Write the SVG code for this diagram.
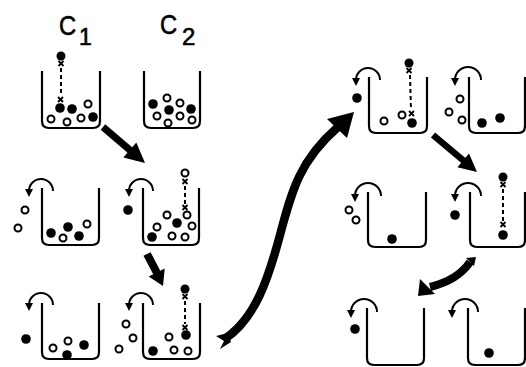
<svg xmlns="http://www.w3.org/2000/svg" width="526" height="367" viewBox="0 0 526 367">
<style>
.bk{fill:none;stroke:#000;stroke-width:2.2;stroke-linejoin:round}
.o{fill:#fff;stroke:#000;stroke-width:2}
.f{fill:#000}
.curl{fill:none;stroke:#000;stroke-width:2;marker-end:url(#ch)}
.dash{stroke:#000;stroke-width:2;stroke-dasharray:4 3}
.x{stroke:#000;stroke-width:1.8;fill:none}
.lbl{font-family:"Liberation Sans",Arial,sans-serif;fill:#000;stroke:#000;stroke-width:0.6}
.shaft{fill:none;stroke:#000;stroke-linecap:butt}
</style>
<defs>
<marker id="ch" markerUnits="userSpaceOnUse" markerWidth="10" markerHeight="10" refX="2" refY="4" orient="auto">
<path d="M0,0 L8,4 L0,8 Z" fill="#000"/>
</marker>
</defs>
<rect width="526" height="367" fill="#fff"/>

<g id="labels">
<text class="lbl" transform="translate(59,35) scale(0.85,1)" font-size="28">C</text>
<text class="lbl" x="79" y="45" font-size="23">1</text>
<text class="lbl" transform="translate(160,34) scale(0.85,1)" font-size="28">C</text>
<text class="lbl" x="182" y="45" font-size="24">2</text>
</g>

<g id="beaker1">
<path class="bk" d="M42 71 V121 Q42 128 49 128 H93 Q100 128 100 121 V71"/>
<circle class="f" cx="61" cy="56" r="4.5"/>
<path class="x" d="M58.5 61 L63.5 66 M63.5 61 L58.5 66"/>
<line class="dash" x1="61" y1="68" x2="61" y2="96"/>
<path class="x" d="M58 97 L63 102 M63 97 L58 102"/>
<circle class="f" cx="60" cy="108" r="4.8"/>
<circle class="f" cx="72" cy="109" r="4.8"/>
<circle class="o" cx="88" cy="104" r="3.5"/>
<circle class="o" cx="51" cy="119" r="3.5"/>
<circle class="o" cx="67" cy="122" r="3.5"/>
<circle class="o" cx="81" cy="118" r="3.5"/>
<circle class="f" cx="93" cy="117" r="4.8"/>
</g>

<g id="beaker2">
<path class="bk" d="M144 71 V121 Q144 128 151 128 H193 Q200 128 200 121 V71"/>
<circle class="f" cx="153" cy="104" r="4.8"/>
<circle class="o" cx="167" cy="98" r="3.5"/>
<circle class="o" cx="180" cy="103" r="3.5"/>
<circle class="f" cx="169" cy="110" r="4.8"/>
<circle class="f" cx="191" cy="109" r="4.8"/>
<circle class="o" cx="157" cy="116" r="3.5"/>
<circle class="o" cx="180" cy="116" r="3.5"/>
<circle class="o" cx="168" cy="123" r="3.5"/>
<circle class="o" cx="192" cy="120" r="3.5"/>
</g>

<g id="beaker3">
<path class="bk" d="M42 188 V238 Q42 245 49 245 H92 Q99 245 99 238 V188"/>
<path class="curl" d="M53 191 A12 12 0 0 0 29 191"/>
<circle class="o" cx="25" cy="210" r="3.5"/>
<circle class="o" cx="18" cy="228" r="3.5"/>
<circle class="f" cx="51" cy="233" r="4.8"/>
<circle class="f" cx="68" cy="227" r="4.8"/>
<circle class="o" cx="63" cy="238" r="3.5"/>
<circle class="f" cx="79" cy="236" r="4.8"/>
<circle class="o" cx="87" cy="224" r="3.5"/>
</g>

<g id="beaker4">
<path class="bk" d="M143 188 V238 Q143 245 150 245 H192 Q199 245 199 238 V188"/>
<path class="curl" d="M153 191 A12 12 0 0 0 129 191"/>
<circle class="f" cx="128" cy="210" r="4.8"/>
<circle class="o" cx="185" cy="173" r="3.5"/>
<path class="x" d="M182.5 179 L187.5 184 M187.5 179 L182.5 184"/>
<line class="dash" x1="185" y1="186" x2="185" y2="204"/>
<path class="x" d="M182.5 205 L187.5 210 M187.5 205 L182.5 210"/>
<circle class="o" cx="187" cy="215" r="3.5"/>
<circle class="o" cx="167" cy="215" r="3.5"/>
<circle class="o" cx="157" cy="227" r="3.5"/>
<circle class="f" cx="177" cy="223" r="4.8"/>
<circle class="o" cx="192" cy="226" r="3.5"/>
<circle class="f" cx="152" cy="237" r="4.8"/>
<circle class="o" cx="172" cy="236" r="3.5"/>
<circle class="o" cx="185" cy="237" r="3.5"/>
</g>

<g id="beaker5">
<path class="bk" d="M42 303 V352 Q42 359 49 359 H92 Q99 359 99 352 V303"/>
<path class="curl" d="M53 305 A12 12 0 0 0 29 305"/>
<circle class="f" cx="26" cy="339" r="4.8"/>
<circle class="o" cx="53" cy="348" r="3.5"/>
<circle class="o" cx="68" cy="341" r="3.5"/>
<circle class="f" cx="67" cy="355" r="4.8"/>
<circle class="f" cx="84" cy="345" r="4.8"/>
</g>

<g id="beaker6">
<path class="bk" d="M143 303 V352 Q143 359 150 359 H193 Q200 359 200 352 V303"/>
<path class="curl" d="M153 305 A12 12 0 0 0 129 305"/>
<circle class="o" cx="126" cy="324" r="3.5"/>
<circle class="o" cx="133" cy="338" r="3.5"/>
<circle class="o" cx="119" cy="349" r="3.5"/>
<circle class="f" cx="185" cy="289" r="4.5"/>
<path class="x" d="M182.5 294 L187.5 299 M187.5 294 L182.5 299"/>
<line class="dash" x1="185" y1="301" x2="185" y2="324"/>
<path class="x" d="M182.5 325 L187.5 330 M187.5 325 L182.5 330"/>
<circle class="f" cx="186" cy="335" r="4.8"/>
<circle class="o" cx="169" cy="337" r="3.5"/>
<circle class="f" cx="153" cy="351" r="4.8"/>
<circle class="o" cx="174" cy="350" r="3.5"/>
<circle class="o" cx="188" cy="351" r="3.5"/>
</g>

<g id="beaker7">
<path class="bk" d="M369 77 V126 Q369 133 376 133 H420 Q427 133 427 126 V77"/>
<path class="curl" d="M380 80 A12 12 0 0 0 356 80"/>
<circle class="f" cx="357" cy="98" r="4.8"/>
<circle class="f" cx="409" cy="63" r="4.5"/>
<path class="x" d="M406.5 68 L411.5 73 M411.5 68 L406.5 73"/>
<line class="dash" x1="410" y1="75" x2="411" y2="110"/>
<path class="x" d="M409 111 L414 116 M414 111 L409 116"/>
<circle class="f" cx="412" cy="123" r="4.8"/>
<circle class="o" cx="384" cy="121" r="3.5"/>
<circle class="o" cx="402" cy="115" r="3.5"/>
</g>

<g id="beaker8">
<path class="bk" d="M469 77 V126 Q469 133 476 133 H518 Q525 133 525 126 V77"/>
<path class="curl" d="M481 80 A13 13 0 0 0 455 80"/>
<circle class="o" cx="460" cy="99" r="3.5"/>
<circle class="o" cx="449" cy="112" r="3.5"/>
<circle class="o" cx="462" cy="120" r="3.5"/>
<circle class="f" cx="482" cy="123" r="4.8"/>
<circle class="f" cx="500" cy="118" r="4.8"/>
</g>

<g id="beaker9">
<path class="bk" d="M368 192 V240 Q368 247 375 247 H419 Q426 247 426 240 V192"/>
<path class="curl" d="M381 196 A13 13 0 0 0 355 196"/>
<circle class="o" cx="349" cy="210" r="3.5"/>
<circle class="o" cx="356" cy="220" r="3.5"/>
<circle class="f" cx="392" cy="239" r="4.8"/>
</g>

<g id="beaker10">
<path class="bk" d="M470 192 V240 Q470 247 477 247 H518 Q525 247 525 240 V192"/>
<path class="curl" d="M481 196 A13 13 0 0 0 455 196"/>
<circle class="f" cx="455" cy="215" r="4.8"/>
<circle class="f" cx="503" cy="177" r="4.5"/>
<path class="x" d="M500.5 182 L505.5 187 M505.5 182 L500.5 187"/>
<line class="dash" x1="503" y1="189" x2="503" y2="221"/>
<path class="x" d="M500.5 222 L505.5 227 M505.5 222 L500.5 227"/>
<circle class="f" cx="503" cy="235" r="4.8"/>
</g>

<g id="beaker11">
<path class="bk" d="M367 308 V358 Q367 365 374 365 H417 Q424 365 424 358 V308"/>
<path class="curl" d="M377 312 A13 13 0 0 0 351 312"/>
<circle class="f" cx="355" cy="329" r="4.8"/>
</g>

<g id="beaker12">
<path class="bk" d="M468 308 V358 Q468 365 475 365 H518 Q525 365 525 358 V308"/>
<path class="curl" d="M478 312 A13 13 0 0 0 452 312"/>
<circle class="f" cx="489" cy="353" r="4.8"/>
</g>

<g id="connectors">
<line class="shaft" x1="103" y1="127" x2="131" y2="151" stroke-width="7"/>
<polygon class="f" points="145,163 123.3,157.6 136.3,142.4"/>
<line class="shaft" x1="147" y1="254" x2="157" y2="273" stroke-width="8"/>
<polygon class="f" points="163,286 148.7,276.5 164.7,268.5"/>
<line class="shaft" x1="433" y1="135" x2="464" y2="161" stroke-width="6.5"/>
<polygon class="f" points="477,172 457.4,167.3 469,153.5"/>
<path class="shaft" d="M470 262 Q458 280 430 287" stroke-width="8"/>
<polygon class="f" points="418,296 420,279 435,294"/>
<polygon class="f" points="466,258 476,257 474,266"/>
<path class="shaft" d="M226 338 C255 318 268 280 280 235 S300 160 338 127" stroke-width="8.5"/>
<polygon class="f" points="354,112 327,119 347,138"/>
<polygon class="f" points="228,333 216,336 224,341 220,349 231,342"/>
</g>
</svg>
